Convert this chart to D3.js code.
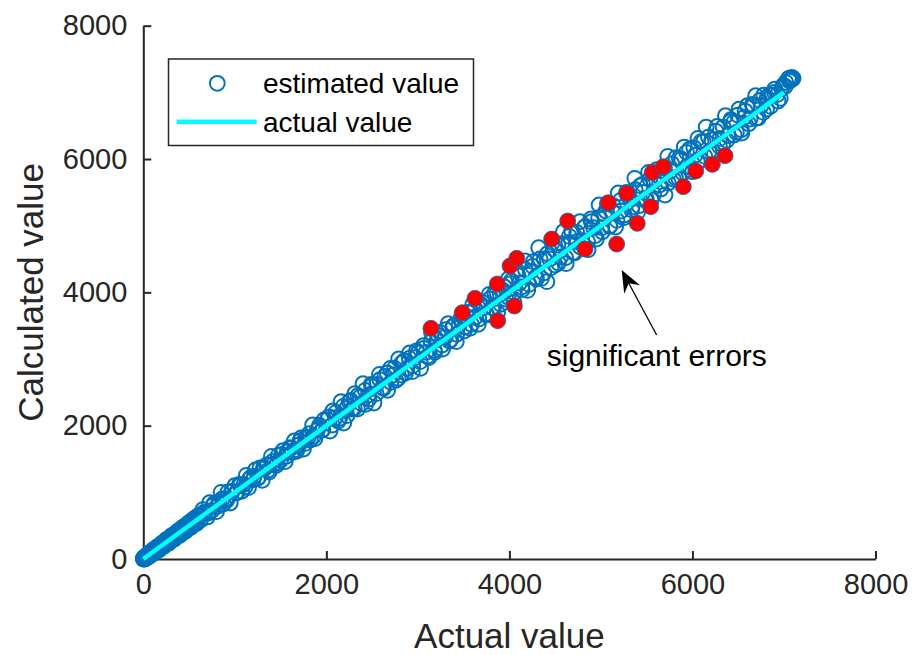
<!DOCTYPE html>
<html>
<head>
<meta charset="utf-8">
<script src="https://cdn.jsdelivr.net/npm/d3@7"></script>
<style>
  html, body { margin: 0; padding: 0; background: #fff; }
  svg { display: block; font-family: "Liberation Sans", Arial, Helvetica, sans-serif; }
</style>
</head>
<body>
<svg id="chart" width="914" height="655"></svg>
<script>
// Axis tick values
const xTicks = [0, 2000, 4000, 6000, 8000];
const yTicks = [0, 2000, 4000, 6000, 8000];

// Estimated values: [actual, calculated]
const estimated = [
  [0,0],[0,10],[5,0],[10,25],[15,5],[20,30],[25,10],[30,45],[40,20],[45,60],[55,35],[60,80],[70,50],[80,95],
  [90,65],[100,120],[110,85],[120,140],[130,110],[145,165],[155,125],[170,195],[180,150],[195,220],[205,180],
  [220,250],[230,200],[245,275],[255,230],[270,300],[285,255],[300,335],[315,280],[330,360],[345,320],[360,395],
  [375,340],[390,430],[405,370],[420,455],[435,400],[450,490],[465,430],[480,520],[495,460],[510,555],[525,490],
  [540,580],[555,520],[570,615],[585,545],
  [8,18],[18,0],[35,55],[50,25],[65,90],[85,60],[105,135],[125,95],[150,180],[175,140],[200,235],[225,190],
  [250,290],[280,240],[310,350],[340,300],[370,410],[400,355],[430,475],[460,415],[490,535],[520,475],[550,600],[580,530],
  [600,650],[625,585],[650,740],[675,685],[700,630],[725,845],[750,730],[775,835],[800,710],[825,855],[850,1000],
  [875,825],[900,900],[925,1005],[950,840],[975,1015],[1000,1100],[1025,995],[1050,1120],[1075,1015],[1100,1120],
  [1125,1255],[1150,1070],[1175,1225],[1200,1190],[1225,1335],[1250,1210],[1275,1365],[1300,1180],[1325,1355],
  [1350,1410],[1375,1305],[1400,1540],[1425,1425],[1450,1400],[1475,1555],[1500,1480],[1525,1625],[1550,1460],
  [1575,1615],[1600,1670],[1625,1595],[1650,1770],[1675,1615],[1700,1710],[1725,1815],[1750,1650],[1775,1825],
  [1800,1820],[1825,1785],[1850,2010],[1875,1805],[1900,1930],[1925,2005],[1950,1930],[1975,2085],
  [612,630],[662,700],[712,690],[762,800],[812,790],[862,900],[912,880],[962,1010],[1012,990],[1062,1110],
  [1112,1080],[1162,1200],[1212,1240],[1262,1230],[1312,1370],[1362,1330],[1412,1460],[1462,1430],[1512,1570],
  [1562,1540],[1612,1660],[1662,1640],[1712,1770],[1762,1730],[1812,1880],[1862,1840],[1912,1960],[1962,1940],
  [2010,2090],[2040,1920],[2070,2220],[2100,2120],[2130,2070],[2160,2360],[2190,2040],[2220,2260],[2250,2360],
  [2280,2250],[2310,2480],[2340,2250],[2370,2430],[2400,2630],[2430,2320],[2460,2460],[2490,2620],[2520,2340],
  [2550,2620],[2580,2770],[2610,2570],[2640,2740],[2670,2530],[2700,2860],[2730,2760],[2760,2680],[2790,3000],
  [2820,2760],[2850,2970],[2880,2860],[2910,3090],[2940,2810],[2970,3020],[3000,3090],[3030,2860],[3060,3200],
  [3090,3100],[3120,3020],[3150,3390],[3180,3130],[3210,3290],[3240,3400],[3270,3150],[3300,3330],[3330,3530],
  [3360,3290],[3390,3500],[3420,3260],[3450,3510],[3480,3650],[3510,3480],[3540,3630],[3570,3460],[3600,3820],
  [3630,3630],[3660,3520],[3690,3820],[3720,3770],[3750,3660],[3780,3970],[3810,3770],[3840,3990],[3870,3690],
  [3900,3970],[3930,4030],[3960,3900],[3990,4200],
  [2025,2130],[2065,2010],[2105,2200],[2145,2110],[2185,2290],[2225,2150],[2265,2380],[2305,2260],[2345,2450],
  [2385,2330],[2425,2530],[2465,2400],[2505,2610],[2545,2480],[2585,2690],[2625,2560],[2665,2790],[2705,2650],
  [2745,2860],[2785,2710],[2825,2940],[2865,2790],[2905,3010],[2945,2900],[2985,3120],[3025,2960],[3065,3160],
  [3105,3040],[3145,3260],[3185,3100],[3225,3350],[3265,3210],[3305,3440],[3345,3270],[3385,3480],[3425,3370],
  [3465,3590],[3505,3420],[3545,3700],[3585,3520],[3625,3750],[3665,3600],[3705,3850],[3745,3680],[3785,3900],
  [3825,3760],[3865,3990],[3905,3820],[3945,4080],[3985,3930],
  [4020,4170],[4050,3850],[4080,4330],[4110,4140],[4140,4040],[4170,4470],[4200,4030],[4230,4310],[4260,4460],
  [4290,4230],[4320,4670],[4350,4210],[4380,4500],[4410,4160],[4440,4500],[4470,4750],[4500,4410],[4530,4710],
  [4560,4530],[4590,4910],[4620,4430],[4650,4750],[4680,4920],[4710,4590],[4740,4760],[4770,5060],[4800,4730],
  [4830,4990],[4860,4640],[4890,5100],[4920,4970],[4950,4800],[4980,5310],[5010,4970],[5040,5170],[5070,5330],
  [5100,5000],[5130,5210],[5160,4980],[5190,5490],[5220,5220],[5250,5120],[5280,5500],[5310,5420],[5340,5280],
  [5370,5710],[5400,5200],[5430,5600],[5460,5500],[5490,5380],[5520,5800],[5550,5390],[5580,5670],[5610,5840],
  [5640,5610],[5670,5820],[5700,5460],[5730,6040],[5760,5820],[5790,5700],[5820,6020],[5850,5710],[5880,6000],
  [5910,6180],[5940,5890],[5970,6150],[6000,5810],[6030,6060],[6060,6310],[6090,5980],[6120,6260],[6150,6480],
  [6180,6110],[6210,6290],[6240,6080],[6270,6490],[6300,6310],[6330,6210],[6360,6650],[6390,6350],[6420,6590],
  [6450,6550],[6480,6400],[6510,6750],[6540,6390],[6570,6630],[6600,6800],[6630,6600],[6660,6790],[6690,6950],
  [6720,6620],[6750,6800],[6780,6960],[6810,6750],[6840,6960],[6870,6960],[6900,7050],[6930,6970],[6960,6910],
  [6990,7100],[7020,7150],[7050,7210],[7070,7190],[7085,7225],[7100,7210],
  [4015,4130],[4055,4000],[4095,4250],[4135,4080],[4175,4340],[4215,4120],[4255,4390],[4295,4200],[4335,4500],
  [4375,4290],[4415,4580],[4455,4370],[4495,4640],[4535,4440],[4575,4730],[4615,4520],[4655,4840],[4695,4600],
  [4735,4900],[4775,4680],[4815,4970],[4855,4760],[4895,5060],[4935,4850],[4975,5120],[5015,4910],[5055,5220],
  [5095,4990],[5135,5300],[5175,5080],[5215,5380],[5255,5160],[5295,5450],[5335,5240],[5375,5540],[5415,5300],
  [5455,5620],[5495,5400],[5535,5700],[5575,5470],[5615,5760],[5655,5550],[5695,5870],[5735,5640],[5775,5930],
  [5815,5720],[5855,6010],[5895,5790],[5935,6100],[5975,5880],[6015,6170],[6055,5950],[6095,6260],[6135,6040],
  [6175,6330],[6215,6120],[6255,6420],[6295,6190],[6335,6480],[6375,6280],[6415,6560],[6455,6360],[6495,6660],
  [6535,6440],[6575,6720],[6615,6530],[6655,6820],[6695,6610],[6735,6880],[6775,6700],[6815,6920],[6855,6790],
  [6895,7000],[6935,6870],[6975,7060],[7015,7090],[7060,7170],[7090,7200]
];

// Reference line (actual = actual)
const actualLine = [[0, 0], [7000, 7000]];

// Points flagged with large deviation: [actual, calculated]
const significant = [
  [3143,3460],[3485,3695],[3624,3910],[3872,3575],[3868,4125],[4054,3795],[4007,4395],[4080,4510],
  [4462,4800],[4637,5070],[4826,4650],[5172,4725],[5081,5345],[5282,5485],[5397,5035],[5544,5285],
  [5561,5800],[5681,5885],[5900,5585],[6036,5820],[6217,5920],[6356,6050]
];

// Annotation: text anchor and arrow (data coordinates)
const noteText = "significant errors";
const notePos = [4408, 2895];
const arrowTail = [5609, 3360];
const arrowTip = [5227, 4335];

const legendLabels = ["estimated value", "actual value"];

const svg = d3.select("#chart");
svg.append("rect").attr("width", 914).attr("height", 655).attr("fill", "#fff");

const axisColor = "#262626";
const blue = "#0072BD";

const x = d3.scaleLinear().domain([0, 8000]).range([143.3, 875.5]);
const y = d3.scaleLinear().domain([0, 8000]).range([559, 25.7]);

// Axes (inward ticks, no box)
const gx = svg.append("g").attr("transform", `translate(0,${y(0)})`)
  .call(d3.axisBottom(x).tickValues(xTicks).tickFormat(d3.format("d"))
    .tickSizeInner(-8).tickSizeOuter(0).tickPadding(14));
const gy = svg.append("g").attr("transform", `translate(${x(0)},0)`)
  .call(d3.axisLeft(y).tickValues(yTicks).tickFormat(d3.format("d"))
    .tickSizeInner(-8).tickSizeOuter(0).tickPadding(16));
[gx, gy].forEach(g => {
  g.select(".domain").attr("stroke", axisColor).attr("stroke-width", 2);
  g.selectAll(".tick line").attr("stroke", axisColor).attr("stroke-width", 2);
  g.selectAll(".tick text").attr("fill", axisColor).attr("font-size", 29)
    .attr("font-family", "Liberation Sans, Arial, sans-serif");
});

// Axis titles
svg.append("text").attr("x", (x(0) + x(8000)) / 2).attr("y", 648)
  .attr("text-anchor", "middle").attr("font-size", 35).attr("fill", axisColor)
  .text("Actual value");
svg.append("text")
  .attr("transform", `translate(43,${(y(0) + y(8000)) / 2}) rotate(-90)`)
  .attr("text-anchor", "middle").attr("font-size", 35).attr("fill", axisColor)
  .text("Calculated value");

// Estimated values as open circles
svg.append("g").selectAll("circle").data(estimated).join("circle")
  .attr("cx", d => x(d[0])).attr("cy", d => y(d[1])).attr("r", 7.4)
  .attr("fill", "none").attr("stroke", blue).attr("stroke-width", 2);

// Actual value line
svg.append("path").datum(actualLine)
  .attr("d", d3.line().x(d => x(d[0])).y(d => y(d[1])))
  .attr("stroke", "#00FFFF").attr("stroke-width", 4.5).attr("fill", "none");

// Significant-error points
svg.append("g").selectAll("circle").data(significant).join("circle")
  .attr("cx", d => x(d[0])).attr("cy", d => y(d[1])).attr("r", 8)
  .attr("fill", "#FF0000").attr("stroke", blue).attr("stroke-width", 0.8);

// Annotation arrow
const tx = x(arrowTail[0]), ty = y(arrowTail[1]);
const hx = x(arrowTip[0]), hy = y(arrowTip[1]);
const len = Math.hypot(hx - tx, hy - ty);
const ux = (hx - tx) / len, uy = (hy - ty) / len;
const px = -uy, py = ux;
const headLen = 22, headHalf = 9, notch = 15;
svg.append("line").attr("x1", tx).attr("y1", ty)
  .attr("x2", hx - ux * notch).attr("y2", hy - uy * notch)
  .attr("stroke", "#000").attr("stroke-width", 1.3);
svg.append("path")
  .attr("d", `M${hx},${hy}` +
    `L${hx - ux * headLen + px * headHalf},${hy - uy * headLen + py * headHalf}` +
    `L${hx - ux * notch},${hy - uy * notch}` +
    `L${hx - ux * headLen - px * headHalf},${hy - uy * headLen - py * headHalf}Z`)
  .attr("fill", "#000");
svg.append("text").attr("x", x(notePos[0])).attr("y", y(notePos[1]))
  .attr("font-size", 30).attr("fill", "#000").text(noteText);

// Legend
const lg = svg.append("g");
lg.append("rect").attr("x", 168.5).attr("y", 59).attr("width", 305).attr("height", 86.5)
  .attr("fill", "#fff").attr("stroke", axisColor).attr("stroke-width", 1.5);
lg.append("circle").attr("cx", 217.3).attr("cy", 83.3).attr("r", 7.4)
  .attr("fill", "none").attr("stroke", blue).attr("stroke-width", 2);
lg.append("line").attr("x1", 176.7).attr("x2", 256.7).attr("y1", 121.7).attr("y2", 121.7)
  .attr("stroke", "#00FFFF").attr("stroke-width", 4.5);
lg.selectAll("text.lab").data(legendLabels).join("text").attr("class", "lab")
  .attr("x", 263).attr("y", (d, i) => [93, 132][i])
  .attr("font-size", 28).attr("fill", "#000").text(d => d);
</script>
</body>
</html>
